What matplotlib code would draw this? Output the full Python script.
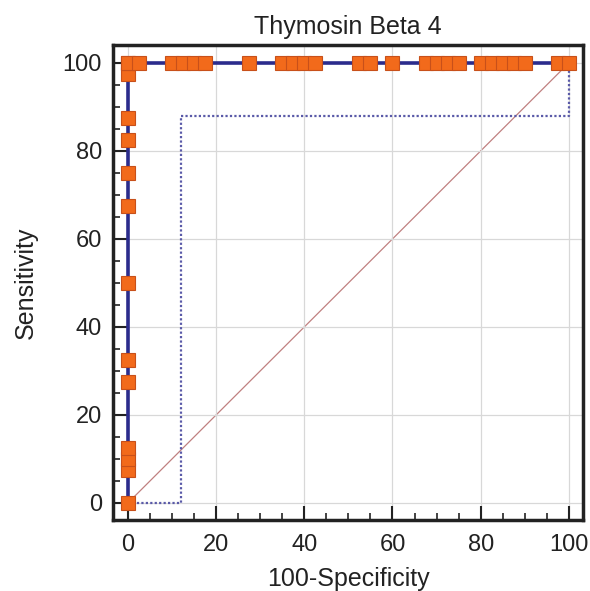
import numpy as np
import matplotlib
matplotlib.use("Agg")
import matplotlib.pyplot as plt
from matplotlib.ticker import MultipleLocator

plt.rcParams['font.family'] = ['Liberation Sans', 'DejaVu Sans']

# titik ROC pada x = 0 (sensitivitas)
sens_left = [0, 7.5, 10, 12.5, 27.5, 32.5, 50, 67.5, 75, 82.5, 87.5, 97.5, 100]
# titik ROC pada y = 100 (100-spesifisitas)
spec_top = [0, 2.5, 10, 12.5, 15, 17.5, 27.5, 35, 37.5, 40, 42.5, 52.5, 55, 60,
            67.5, 70, 72.5, 75, 80, 82.5, 85, 87.5, 90, 97.5, 100]
# batas interval kepercayaan (garis titik-titik)
ci_x = [0, 12, 12, 100, 100]
ci_y = [0, 0, 88, 88, 100]

roc_x = [0] * len(sens_left) + spec_top
roc_y = sens_left + [100] * len(spec_top)

fig = plt.figure(figsize=(5.9, 5.91), dpi=100)
ax = fig.add_axes([0.1915, 0.12, 0.7965, 0.804])

ax.grid(True, color='#d8d8d8', linewidth=0.9, zorder=0)
ax.plot([0, 100], [0, 100], color='#c08080', linewidth=0.9, zorder=1)
ax.plot(ci_x, ci_y, color='#5a5aa8', linestyle=(0, (1, 1)), linewidth=1.6, zorder=2)
ax.plot(roc_x, roc_y, color='#2b2c8c', linewidth=2.6, zorder=3)
ax.plot(roc_x, roc_y, linestyle='none', marker='s', markersize=9.5,
        markerfacecolor='#f26a1b', markeredgecolor='#c8501a', markeredgewidth=0.8, zorder=4)

ax.set_xlim(-3.4, 103.2)
ax.set_ylim(-3.9, 104.1)
ax.xaxis.set_major_locator(MultipleLocator(20))
ax.yaxis.set_major_locator(MultipleLocator(20))
ax.xaxis.set_minor_locator(MultipleLocator(5))
ax.yaxis.set_minor_locator(MultipleLocator(5))
ax.tick_params(which='major', direction='in', length=10, width=1.5, labelsize=17, colors='#222222')
ax.tick_params(which='minor', direction='in', length=5, width=1.2, colors='#222222')
ax.tick_params(axis='x', which='major', pad=10)
ax.tick_params(axis='y', which='major', pad=8)
for s in ax.spines.values():
    s.set_linewidth(2.5)
    s.set_color('#222222')

ax.set_title("Thymosin Beta 4", fontsize=18, pad=8, color='#222222')
ax.set_xlabel("100-Specificity", fontsize=18, labelpad=8, color='#222222')
ax.set_ylabel("Sensitivity", fontsize=18, labelpad=18, color='#222222')

fig.savefig("out.png", dpi=100)
